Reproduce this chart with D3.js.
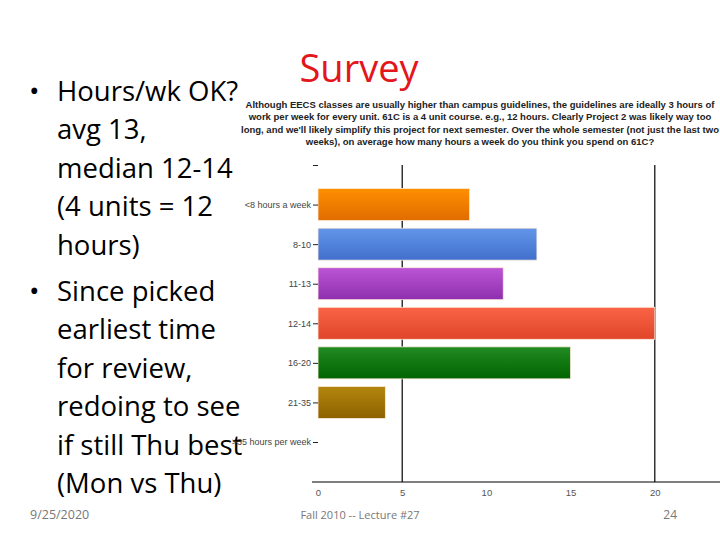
<!DOCTYPE html>
<html>
<head>
<meta charset="utf-8">
<script src="https://cdn.jsdelivr.net/npm/d3@7"></script>
<style>
  body { margin: 0; background: #fff; }
  svg { display: block; }
</style>
</head>
<body>
<div id="vis"></div>
<script>
var width = 720;
var height = 540;

// survey answers: hours per week on 61C
var categories = ["", "<8 hours a week", "8-10", "11-13", "12-14", "16-20", "21-35", ">35 hours per week"];
var counts = [null, 9, 13, 11, 20, 15, 4, 0];
var barTop = ["", "#ff8f00", "#6396ea", "#bb55d6", "#fa6446", "#228b22", "#b4860e"];
var barBottom = ["", "#e06c00", "#4070cc", "#8e2fae", "#df4529", "#006400", "#8c6200"];
var xTicks = [0, 5, 10, 15, 20];
var gridAt = [5, 20];

var bullets = [
    { bullet: true, lines: ["Hours/wk OK?", "avg 13,", "median 12-14", "(4 units = 12", "hours)"] },
    { bullet: true, lines: ["Since picked", "earliest time", "for review,", "redoing to see", "if still Thu best", "(Mon vs Thu)"] }
];
var question = [
    "Although EECS classes are usually higher than campus guidelines, the guidelines are ideally 3 hours of",
    "work per week for every unit. 61C is a 4 unit course.  e.g., 12 hours.  Clearly Project 2 was likely way too",
    "long, and we'll likely simplify this project for next semester.  Over the whole semester (not just the last two",
    "weeks), on average how many hours a week do you think you spend on 61C?"
];

var svg = d3.select('#vis').append('svg')
    .attr('width', width)
    .attr('height', height);

// title
svg.append('text')
    .attr('x', 359).attr('y', 82)
    .attr('text-anchor', 'middle')
    .attr('font-family', 'Open Sans, sans-serif')
    .attr('font-size', 38)
    .attr('fill', '#e3161b')
    .text('Survey');

// bullet text
var lineY = 90;
bullets.forEach(function (b, bi) {
    if (bi > 0) lineY += 8;
    b.lines.forEach(function (l, li) {
        if (li == 0) {
            svg.append('text')
                .attr('x', 29).attr('y', lineY + 11)
                .attr('font-family', 'Open Sans, sans-serif')
                .attr('font-size', 28)
                .text('\u2022');
        }
        svg.append('text')
            .attr('x', 57).attr('y', lineY + 11)
            .attr('font-family', 'Open Sans, sans-serif')
            .attr('font-size', 27.5)
            .attr('fill', '#000')
            .text(l);
        lineY += 38.4;
    });
});

// question above chart
question.forEach(function (q, i) {
    svg.append('text')
        .attr('x', 480).attr('y', 108 + i * 12.3)
        .attr('text-anchor', 'middle')
        .attr('font-family', 'Liberation Sans, Arial, sans-serif')
        .attr('font-size', 9.5)
        .attr('font-weight', 'bold')
        .attr('fill', '#222')
        .text(q);
});

// chart
var x = d3.scaleLinear().domain([0, 25]).range([318, 739]);
var y = d3.scalePoint().domain(categories).range([165, 442]);
var barH = 32;

var defs = svg.append('defs');
categories.forEach(function (c, i) {
    if (!barTop[i]) return;
    var g = defs.append('linearGradient')
        .attr('id', 'grad' + i)
        .attr('x1', 0).attr('y1', 0).attr('x2', 0).attr('y2', 1);
    g.append('stop').attr('offset', '0%').attr('stop-color', barTop[i]);
    g.append('stop').attr('offset', '100%').attr('stop-color', barBottom[i]);
});

// vertical grid lines
svg.selectAll('.grid')
    .data(gridAt)
    .enter().append('line')
    .attr('x1', function (d) { return x(d); })
    .attr('x2', function (d) { return x(d); })
    .attr('y1', 165)
    .attr('y2', 482)
    .attr('stroke', '#000')
    .attr('stroke-width', 1.2);

// bars
svg.selectAll('.bar')
    .data(categories.map(function (c, i) { return { cat: c, v: counts[i], i: i }; })
        .filter(function (d) { return d.v; }))
    .enter().append('rect')
    .attr('x', x(0))
    .attr('y', function (d) { return y(d.cat) - barH / 2; })
    .attr('width', function (d) { return x(d.v) - x(0); })
    .attr('height', barH)
    .attr('fill', function (d) { return 'url(#grad' + d.i + ')'; })
    .attr('stroke', '#fde9d9')
    .attr('stroke-width', 0.8);

// y axis labels and ticks
var yAxis = d3.axisLeft(y).tickSize(5).tickPadding(2);
var yg = svg.append('g').attr('transform', 'translate(318,0)').call(yAxis);
yg.select('.domain').remove();
yg.selectAll('text')
    .attr('font-family', 'Liberation Sans, Arial, sans-serif')
    .attr('font-size', 9)
    .attr('fill', '#444');
yg.selectAll('line').attr('stroke', '#222');

// x axis
var xAxis = d3.axisBottom(x).tickValues(xTicks).tickSize(0).tickPadding(7);
var xg = svg.append('g').attr('transform', 'translate(0,482)').call(xAxis);
xg.select('.domain').attr('d', 'M312,0H720').attr('stroke', '#000').attr('stroke-width', 1.2);
xg.selectAll('text')
    .attr('font-family', 'Liberation Sans, Arial, sans-serif')
    .attr('font-size', 9.5)
    .attr('fill', '#555');

// footer
var footer = [
    { t: '9/25/2020', x: 30, a: 'start', s: 12.5 },
    { t: 'Fall 2010 -- Lecture #27', x: 360, a: 'middle', s: 11 },
    { t: '24', x: 677, a: 'end', s: 12 }
];
footer.forEach(function (f) {
    svg.append('text')
        .attr('x', f.x).attr('y', 519)
        .attr('text-anchor', f.a)
        .attr('font-family', 'Open Sans, sans-serif')
        .attr('font-size', f.s)
        .attr('fill', '#777')
        .text(f.t);
});
</script>
</body>
</html>
